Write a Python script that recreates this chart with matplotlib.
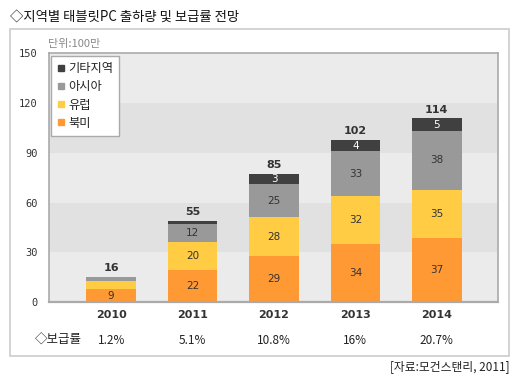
import matplotlib.pyplot as plt
from matplotlib.lines import Line2D
from matplotlib.patches import Rectangle
import matplotlib.transforms as mtransforms

plt.rcParams['font.family'] = ['Noto Sans CJK KR', 'DejaVu Sans']

years = ['2010', '2011', '2012', '2013', '2014']
series = ['북미', '유럽', '아시아', '기타지역']
colors = ['#FF9933', '#FFCC44', '#999999', '#404040']

# bar heights as drawn in the picture (units of 100만)
heights = [
    [7.8, 19.3, 27.7, 34.9, 38.6],   # 북미
    [4.9, 16.8, 23.5, 29.0, 28.9],   # 유럽
    [2.4, 10.9, 19.9, 27.1, 35.7],   # 아시아
    [0.0, 1.8, 6.0, 6.6, 7.6],       # 기타지역
]
# numbers printed on the segments ('' = not printed)
seg_labels = [
    ['9', '22', '29', '34', '37'],
    ['', '20', '28', '32', '35'],
    ['', '12', '25', '33', '38'],
    ['', '', '3', '4', '5'],
]
totals = ['16', '55', '85', '102', '114']
rates = ['1.2%', '5.1%', '10.8%', '16%', '20.7%']

fig = plt.figure(figsize=(5.2, 3.81), dpi=100)
fig.patch.set_facecolor('white')

# outer panel
fig.add_artist(Rectangle((0.0192, 0.0656), 0.960, 0.858, transform=fig.transFigure,
                         fill=False, edgecolor='#cccccc', linewidth=1.2))

ax = fig.add_axes([0.0942, 0.2073, 0.8635, 0.653])
ax.set_xlim(-0.764, 4.752)
ax.set_ylim(0, 150)

# alternating bands
for i, lo in enumerate(range(0, 150, 30)):
    ax.axhspan(lo, lo + 30, color='#EBEBEB' if i % 2 == 0 else '#E1E1E1', zorder=0, lw=0)

x = list(range(len(years)))
bottom = [0.0] * len(years)
for s in range(len(series)):
    ax.bar(x, heights[s], 0.61, bottom=bottom, color=colors[s], zorder=2, linewidth=0)
    for i in x:
        if seg_labels[s][i]:
            ax.text(i, bottom[i] + heights[s][i] / 2, seg_labels[s][i], ha='center', va='center',
                    fontsize=7.5, color='white' if s == 3 else '#333333', zorder=3,
                    family='DejaVu Sans')
    bottom = [bottom[i] + heights[s][i] for i in x]

for i in x:
    ax.text(i, bottom[i] + 2.2, totals[i], ha='center', va='bottom', fontsize=8,
            fontweight='bold', color='#333333', family='DejaVu Sans')

for sp in ax.spines.values():
    sp.set_color('#aaaaaa')
    sp.set_linewidth(1.2)
ax.spines['bottom'].set_linewidth(1.6)

ax.set_yticks(range(0, 151, 30))
ax.set_yticklabels([str(v) for v in range(0, 151, 30)], family='DejaVu Sans Mono',
                   fontsize=7.5, color='#333333')
ax.set_xticks(x)
ax.set_xticklabels(years, fontweight='bold', fontsize=8, color='#333333', family='DejaVu Sans')
ax.tick_params(axis='both', length=0)
ax.tick_params(axis='y', pad=8)
ax.tick_params(axis='x', pad=6)

handles = [Line2D([], [], marker='s', linestyle='none', color=colors[s], markersize=4.8)
           for s in range(3, -1, -1)]
leg = ax.legend(handles, series[::-1], loc='upper left', bbox_to_anchor=(0.0045, 0.988),
                borderaxespad=0, fancybox=False, edgecolor='#aaaaaa', framealpha=1,
                fontsize=8.8, handlelength=0.6, handletextpad=0.3, labelspacing=0.42,
                borderpad=0.5)
leg.get_frame().set_linewidth(1.0)
for t in leg.get_texts():
    t.set_color('#222222')

# rate row
trans = mtransforms.blended_transform_factory(ax.transData, ax.transAxes)
for i in x:
    ax.text(i, -0.153, rates[i], transform=trans, ha='center', va='center', fontsize=8.5,
            color='#222222')
fig.text(0.067, 0.108, '◇보급률', ha='left', va='center', fontsize=9, color='#222222')

fig.text(0.019, 0.955, '◇지역별 태블릿PC 출하량 및 보급률 전망', ha='left', va='center',
         fontsize=9.6, color='#111111')
fig.text(0.092, 0.885, '단위:100만', ha='left', va='center', fontsize=8, color='#888888')
fig.text(0.981, 0.039, '[자료:모건스탠리, 2011]', ha='right', va='center', fontsize=8.5,
         color='#222222')

fig.savefig('out.png', dpi=100)
